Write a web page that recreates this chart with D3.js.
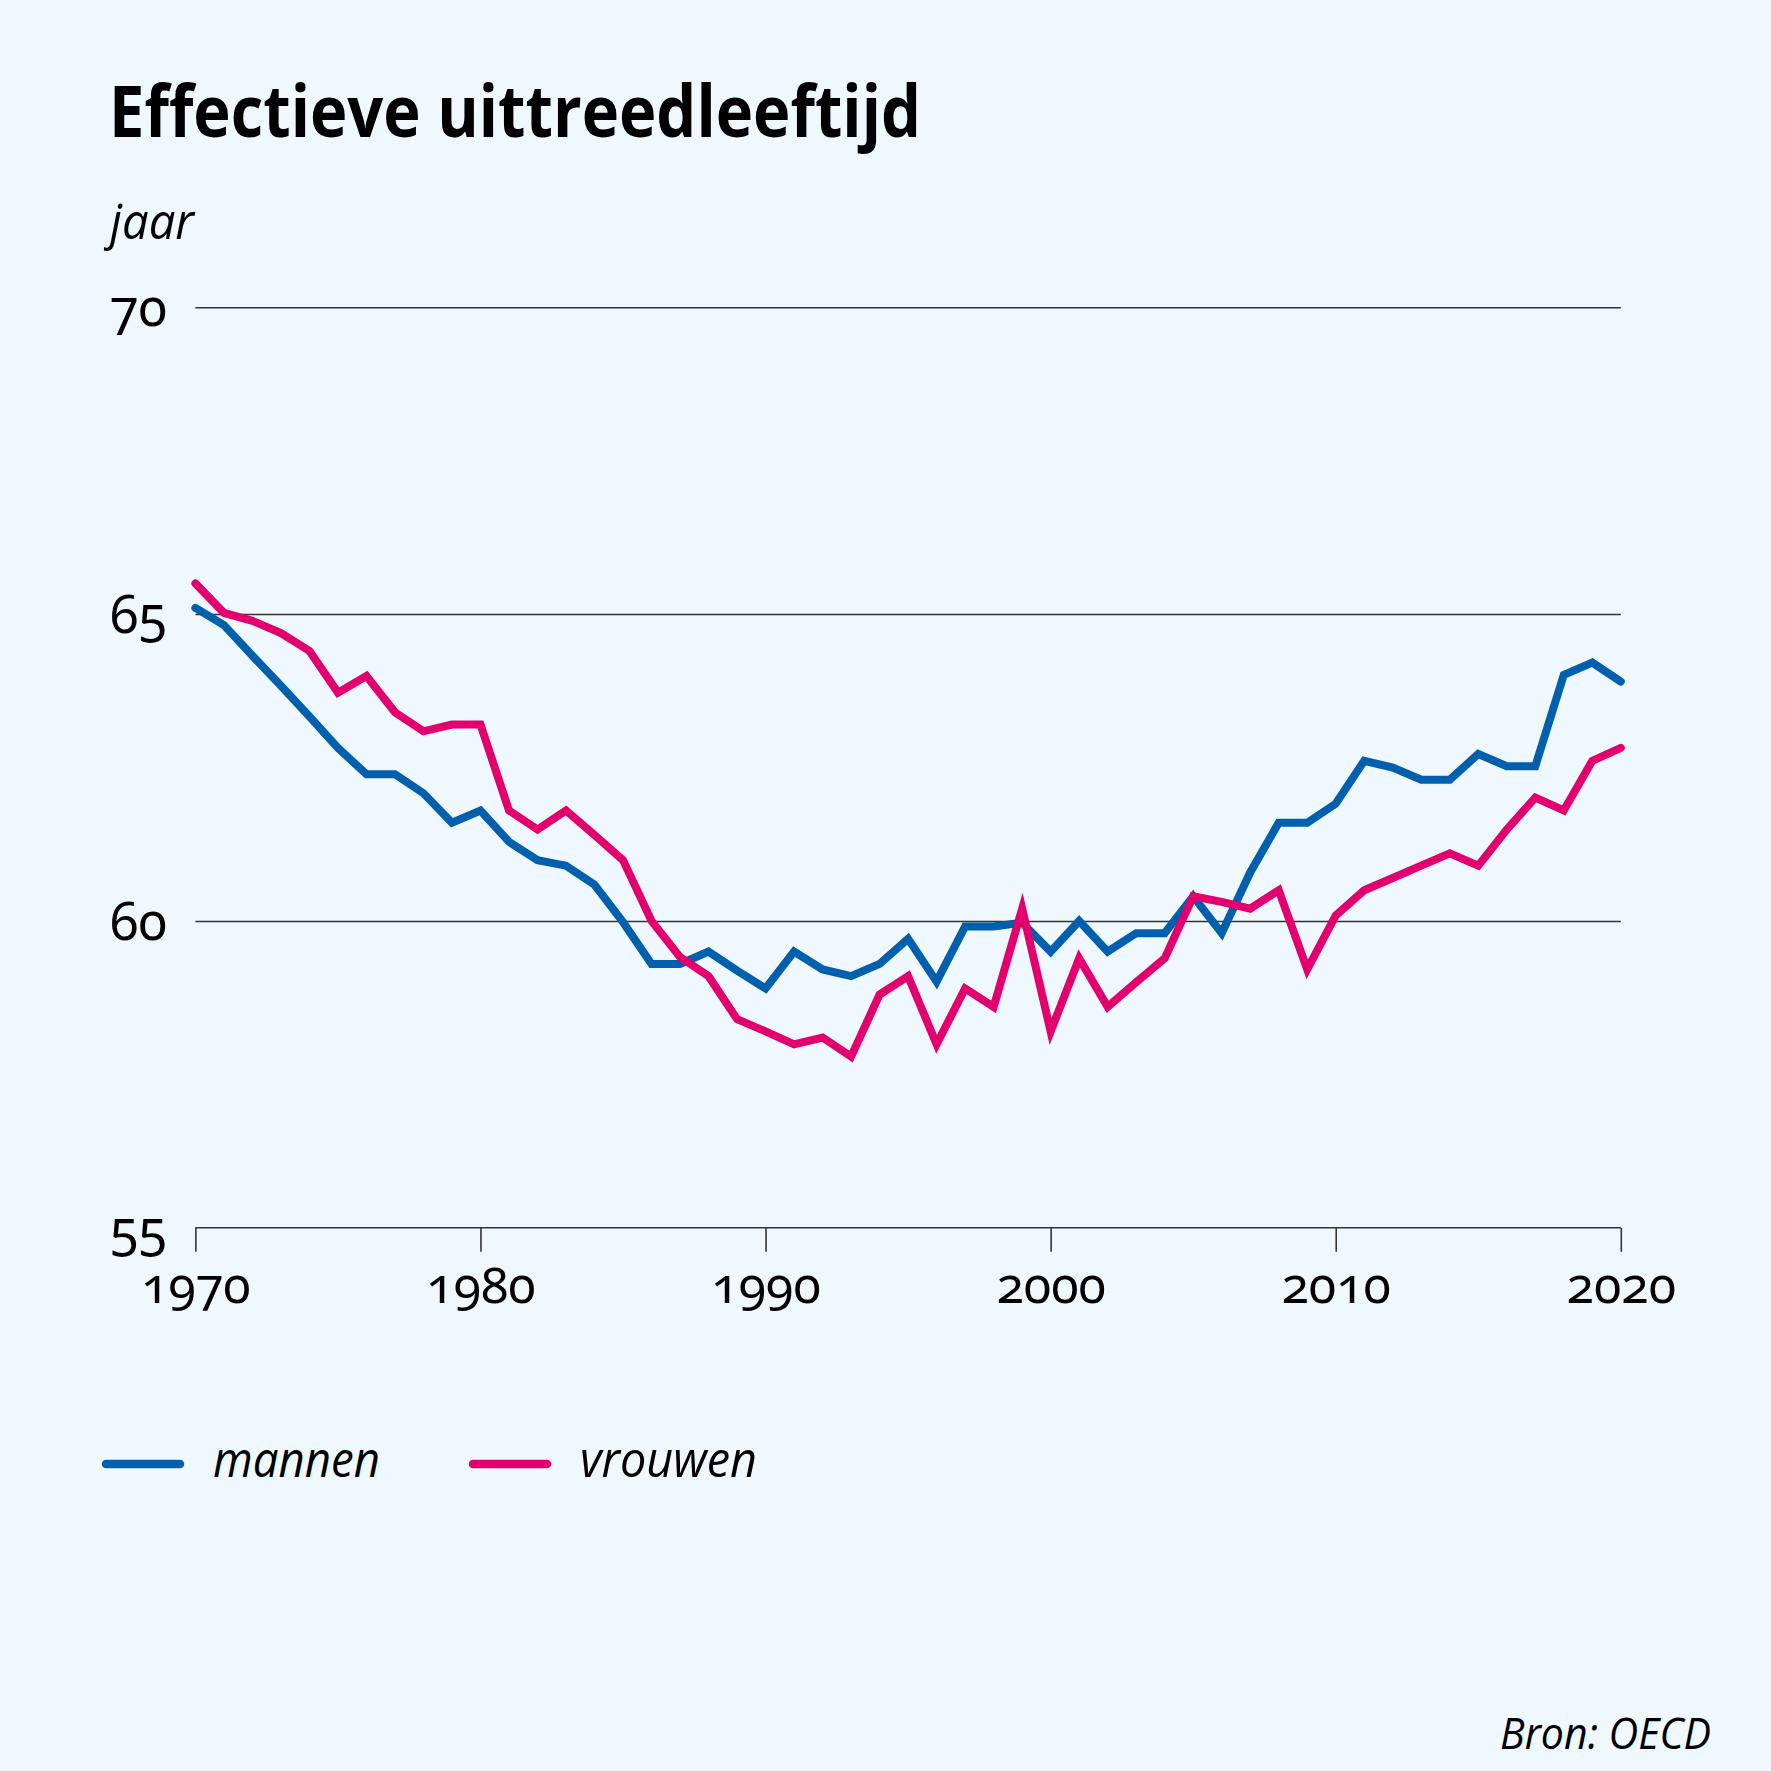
<!DOCTYPE html>
<html>
<head>
<meta charset="utf-8">
<script src="https://cdn.jsdelivr.net/npm/d3@7"></script>
<style>
  html, body { margin: 0; padding: 0; background: #eef8fe; }
  svg { display: block; }
  text { fill: #000; }
</style>
</head>
<body>
<svg id="chart" width="1771" height="1771"></svg>
<script>
const years = d3.range(1970, 2021);
const mannen = [65.10, 64.82, 64.32, 63.83, 63.33, 62.82, 62.39, 62.39, 62.08, 61.60,
  61.80, 61.29, 60.99, 60.90, 60.59, 59.98, 59.30, 59.30, 59.50, 59.19,
  58.90, 59.50, 59.21, 59.10, 59.30, 59.71, 59.01, 59.91, 59.91, 59.97,
  59.50, 60.00, 59.50, 59.80, 59.80, 60.40, 59.80, 60.79, 61.60, 61.60,
  61.91, 62.61, 62.50, 62.30, 62.30, 62.72, 62.52, 62.52, 64.01, 64.21,
  63.90];
const vrouwen = [65.50, 65.02, 64.89, 64.69, 64.40, 63.72, 63.99, 63.40, 63.09, 63.20,
  63.20, 61.80, 61.49, 61.80, 61.40, 60.99, 60.00, 59.41, 59.10, 58.40,
  58.20, 57.99, 58.10, 57.79, 58.80, 59.10, 57.99, 58.90, 58.60, 60.20,
  58.20, 59.39, 58.60, 59.00, 59.39, 60.40, 60.31, 60.20, 60.50, 59.21,
  60.09, 60.50, 60.70, 60.90, 61.10, 60.90, 61.49, 62.01, 61.80, 62.61,
  62.82];
const yTicks = [55, 60, 65, 70];
const xTicks = [1970, 1980, 1990, 2000, 2010, 2020];
const seriesNames = ["mannen", "vrouwen"];
const colors = ["#0060ae", "#e3006e"];

const svg = d3.select("#chart");
svg.append("rect").attr("width", 1771).attr("height", 1771).attr("fill", "#eef8fe");

const x = d3.scaleLinear().domain([1970, 2020]).range([195.4, 1620.8]);
const y = d3.scaleLinear().domain([55, 70]).range([1227.8, 307.2]);

// Title
svg.append("text")
  .attr("x", 109).attr("y", 137)
  .attr("font-family", "'Open Sans', 'Noto Sans', sans-serif")
  .attr("font-weight", 700)
  .attr("font-size", 72)
  .attr("textLength", 812)
  .attr("lengthAdjust", "spacingAndGlyphs")
  .text("Effectieve uittreedleeftijd");

// Unit label
svg.append("text")
  .attr("x", 110).attr("y", 239)
  .attr("font-family", "'Open Sans', 'Noto Sans', sans-serif")
  .attr("font-style", "italic")
  .attr("font-size", 50)
  .attr("textLength", 84)
  .attr("lengthAdjust", "spacingAndGlyphs")
  .text("jaar");

// Gridlines (60,65,70)
const grid = svg.append("g")
  .attr("transform", `translate(${x(1970)},0)`)
  .call(d3.axisLeft(y).tickValues(yTicks.filter(d => d > 55))
        .tickSize(-(x(2020) - x(1970))).tickFormat(""));
grid.select(".domain").remove();
grid.selectAll(".tick line").attr("stroke", "#333").attr("stroke-width", 1.6);

// Y labels
svg.append("g").selectAll("text").data(yTicks).join("text")
  .attr("x", 110)
  .attr("y", d => y(d) + 19)
  .attr("font-family", "'Noto Sans', 'Open Sans', sans-serif")
  .attr("font-size", 52)
  .style("font-variant-numeric", "oldstyle-nums")
  .text(d => d);

// X axis
const xa = svg.append("g")
  .attr("transform", `translate(0,${y(55)})`)
  .call(d3.axisBottom(x).tickValues(xTicks).tickSize(24).tickFormat(d3.format("d")));
xa.select(".domain").attr("stroke", "#333").attr("stroke-width", 1.6)
  .attr("d", `M${x(1970)},0H${x(2020)}`);
xa.selectAll(".tick line").attr("stroke", "#333").attr("stroke-width", 1.6);
xa.selectAll(".tick text")
  .attr("y", 75).attr("dy", 0)
  .attr("fill", "#000")
  .attr("font-family", "'Noto Sans', 'Open Sans', sans-serif")
  .attr("font-size", 50)
  .style("font-variant-numeric", "oldstyle-nums");

// Lines
const line = d3.line().x((d, i) => x(years[i])).y(d => y(d));
[mannen, vrouwen].forEach((s, k) => {
  svg.append("path")
    .datum(s)
    .attr("d", line)
    .attr("fill", "none")
    .attr("stroke", colors[k])
    .attr("stroke-width", 8)
    .attr("stroke-linecap", "round")
    .attr("stroke-linejoin", "miter");
});

// Legend
const legX = [106, 473];
const legW = [167, 177];
const lg = svg.append("g").selectAll("g").data(seriesNames).join("g")
  .attr("transform", (d, i) => `translate(${legX[i]},1464)`);
lg.append("line").attr("x1", 0).attr("x2", 74).attr("y1", 0).attr("y2", 0)
  .attr("stroke", (d, i) => colors[i]).attr("stroke-width", 8.5).attr("stroke-linecap", "round");
lg.append("text").attr("x", 107).attr("y", 13)
  .attr("font-family", "'Open Sans', 'Noto Sans', sans-serif")
  .attr("font-style", "italic")
  .attr("font-size", 50)
  .attr("textLength", (d, i) => legW[i])
  .attr("lengthAdjust", "spacingAndGlyphs")
  .text(d => d);

// Source
svg.append("text")
  .attr("x", 1711).attr("y", 1749)
  .attr("text-anchor", "end")
  .attr("font-family", "'Open Sans', 'Noto Sans', sans-serif")
  .attr("font-style", "italic")
  .attr("font-size", 44)
  .attr("textLength", 211)
  .attr("lengthAdjust", "spacingAndGlyphs")
  .text("Bron: OECD");
</script>
</body>
</html>
